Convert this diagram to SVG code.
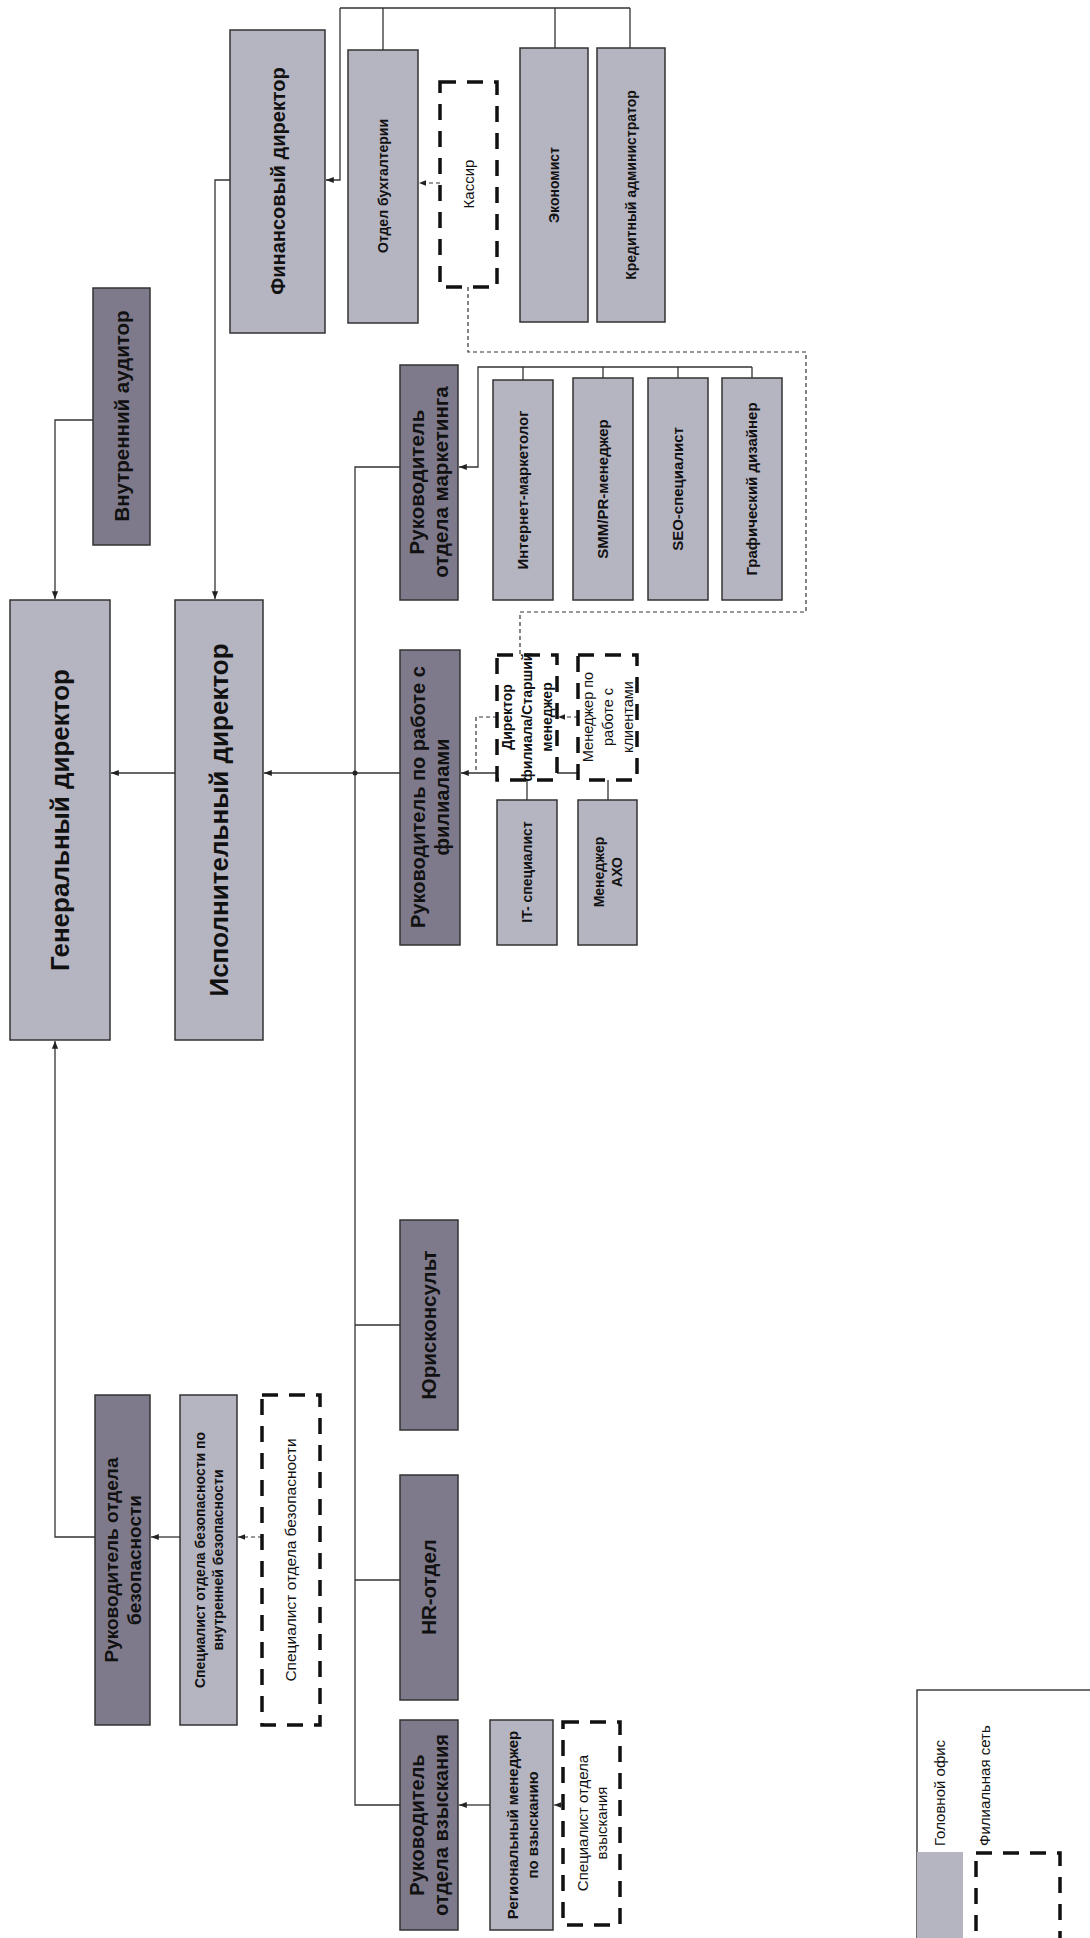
<svg xmlns="http://www.w3.org/2000/svg" width="1090" height="1938" viewBox="0 0 1090 1938">
<style>
.l{fill:#b5b4c1;stroke:#333;stroke-width:1.5}
.d{fill:#7e7a8b;stroke:#333;stroke-width:1.5}
.ds{fill:#fff;stroke:#111;stroke-width:3.5;stroke-dasharray:16 11}
.c{fill:none;stroke:#333;stroke-width:1.3}
.cd{fill:none;stroke:#333;stroke-width:1.2;stroke-dasharray:4 3}
text{font-family:"Liberation Sans",Arial,sans-serif;fill:#111;text-anchor:middle}
.b{font-weight:bold}
</style>
<defs>
<marker id="a" viewBox="0 0 10 10" refX="10" refY="5" markerWidth="6" markerHeight="6" orient="auto-start-reverse"><path d="M0,1 L10,5 L0,9 z" fill="#222"/></marker>
</defs>
<rect width="1090" height="1938" fill="#fff"/>
<g id="connectors">
<path class="c" d="M340,8 H630 M383,8 V50 M555,8 V48 M630,8 V48"/>
<path class="c" d="M340,8 V180 H326" marker-end="url(#a)"/>
<path class="cd" d="M440,183 H419" marker-end="url(#a)"/>
<path class="cd" d="M468,287 V352 H806 V612 H520 V655"/>
<path class="c" d="M230,180 H215 V599" marker-end="url(#a)"/>
<path class="c" d="M93,420 H55 V599" marker-end="url(#a)"/>
<path class="c" d="M95,1537 H55 V1041" marker-end="url(#a)"/>
<path class="c" d="M180,1537 H151" marker-end="url(#a)"/>
<path class="cd" d="M262,1537 H238" marker-end="url(#a)"/>
<path class="c" d="M175,773 H111" marker-end="url(#a)"/>
<path class="c" d="M400,773 H264" marker-end="url(#a)"/>
<path class="c" d="M400,467 H355 V1805 H400 M355,1325 H400 M355,1580 H400"/>
<circle cx="355" cy="773" r="2.5" fill="#222"/>
<path class="c" d="M752,367 H478 V467 H459" marker-end="url(#a)"/>
<path class="c" d="M523,367 V380 M603,367 V378 M678,367 V378 M752,367 V378"/>
<path class="c" d="M608,800 V773 H461" marker-end="url(#a)"/>
<path class="c" d="M527,773 V800"/>
<path class="cd" d="M497,717 H476 V773"/>
<path class="cd" d="M578,717 H558" marker-end="url(#a)"/>
<path class="c" d="M490,1805 H459" marker-end="url(#a)"/>
<path class="cd" d="M563,1805 H554" marker-end="url(#a)"/>
</g>
<g id="fin"><rect class="l" x="230" y="30" width="95" height="303"/><text class="b" font-size="20" transform="translate(277.5 181) rotate(-90)" y="7">Финансовый директор</text></g>
<g id="buh"><rect class="l" x="348" y="50" width="70" height="273"/><text class="b" font-size="14" transform="translate(383 186) rotate(-90)" y="5">Отдел бухгалтерии</text></g>
<g id="kassir"><rect class="ds" x="440" y="82" width="57" height="205"/><text font-size="15" transform="translate(468.5 184) rotate(-90)" y="5">Кассир</text></g>
<g id="econ"><rect class="l" x="520" y="48" width="68" height="274"/><text class="b" font-size="14" transform="translate(554 185) rotate(-90)" y="5">Экономист</text></g>
<g id="kred"><rect class="l" x="597" y="48" width="68" height="274"/><text class="b" font-size="14" transform="translate(631 185) rotate(-90)" y="5">Кредитный администратор</text></g>
<g id="audit"><rect class="d" x="93" y="288" width="57" height="257"/><text class="b" font-size="20.5" transform="translate(121.5 416) rotate(-90)" y="7">Внутренний аудитор</text></g>
<g id="gen"><rect class="l" x="10" y="600" width="100" height="440"/><text class="b" font-size="26" transform="translate(60 820) rotate(-90)" y="9">Генеральный директор</text></g>
<g id="isp"><rect class="l" x="175" y="600" width="88" height="440"/><text class="b" font-size="26" transform="translate(219 820) rotate(-90)" y="9">Исполнительный директор</text></g>
<g id="mkt"><rect class="d" x="400" y="365" width="58" height="235"/><text class="b" font-size="20.5" transform="translate(429 482) rotate(-90)"><tspan x="0" y="-5">Руководитель</tspan><tspan x="0" y="19">отдела маркетинга</tspan></text></g>
<g id="inet"><rect class="l" x="493" y="380" width="60" height="220"/><text class="b" font-size="15" transform="translate(523 490) rotate(-90)" y="5">Интернет-маркетолог</text></g>
<g id="smm"><rect class="l" x="573" y="378" width="60" height="222"/><text class="b" font-size="15" transform="translate(603 489) rotate(-90)" y="5">SMM/PR-менеджер</text></g>
<g id="seo"><rect class="l" x="648" y="378" width="60" height="222"/><text class="b" font-size="15" transform="translate(678 489) rotate(-90)" y="5">SEO-специалист</text></g>
<g id="graph"><rect class="l" x="722" y="378" width="60" height="222"/><text class="b" font-size="15" transform="translate(752 489) rotate(-90)" y="5">Графический дизайнер</text></g>
<g id="fil"><rect class="d" x="400" y="650" width="60" height="295"/><text class="b" font-size="20" transform="translate(430 797) rotate(-90)"><tspan x="0" y="-5">Руководитель по работе с</tspan><tspan x="0" y="19">филиалами</tspan></text></g>
<g id="dirfil"><rect class="ds" x="497" y="655" width="60" height="125"/><text class="b" font-size="14" transform="translate(527 717) rotate(-90)"><tspan x="0" y="-15">Директор</tspan><tspan x="0" y="5">филиала/Старший</tspan><tspan x="0" y="25">менеджер</tspan></text></g>
<g id="mgrcl"><rect class="ds" x="578" y="655" width="59" height="125"/><text font-size="14.5" transform="translate(607.5 717) rotate(-90)"><tspan x="0" y="-15">Менеджер по</tspan><tspan x="0" y="5">работе с</tspan><tspan x="0" y="25">клиентами</tspan></text></g>
<g id="it"><rect class="l" x="497" y="800" width="60" height="145"/><text class="b" font-size="14" transform="translate(527 872) rotate(-90)" y="5">IT- специалист</text></g>
<g id="axo"><rect class="l" x="578" y="800" width="59" height="145"/><text class="b" font-size="14" transform="translate(607.5 872) rotate(-90)"><tspan x="0" y="-4">Менеджер</tspan><tspan x="0" y="14">АХО</tspan></text></g>
<g id="yur"><rect class="d" x="400" y="1220" width="58" height="210"/><text class="b" font-size="20.5" transform="translate(429 1325) rotate(-90)" y="7">Юрисконсульт</text></g>
<g id="hr"><rect class="d" x="400" y="1475" width="58" height="225"/><text class="b" font-size="20.5" transform="translate(429 1587) rotate(-90)" y="7">HR-отдел</text></g>
<g id="vzr"><rect class="d" x="400" y="1720" width="58" height="210"/><text class="b" font-size="20" transform="translate(429 1825) rotate(-90)"><tspan x="0" y="-5">Руководитель</tspan><tspan x="0" y="19">отдела взыскания</tspan></text></g>
<g id="regm"><rect class="l" x="490" y="1720" width="63" height="210"/><text class="b" font-size="15" transform="translate(521.5 1825) rotate(-90)"><tspan x="0" y="-4">Региональный менеджер</tspan><tspan x="0" y="16">по взысканию</tspan></text></g>
<g id="specv"><rect class="ds" x="563" y="1722" width="57" height="203"/><text font-size="15" transform="translate(591.5 1823) rotate(-90)"><tspan x="0" y="-4">Специалист отдела</tspan><tspan x="0" y="15">взыскания</tspan></text></g>
<g id="bez"><rect class="d" x="95" y="1395" width="55" height="330"/><text class="b" font-size="19" transform="translate(122.5 1560) rotate(-90)"><tspan x="0" y="-5">Руководитель отдела</tspan><tspan x="0" y="18">безопасности</tspan></text></g>
<g id="specb"><rect class="l" x="180" y="1395" width="57" height="330"/><text class="b" font-size="14" transform="translate(208.5 1560) rotate(-90)"><tspan x="0" y="-4">Специалист отдела безопасности по</tspan><tspan x="0" y="14">внутренней безопасности</tspan></text></g>
<g id="specbd"><rect class="ds" x="262" y="1395" width="58" height="330"/><text font-size="15.5" transform="translate(291 1560) rotate(-90)" y="5">Специалист отдела безопасности</text></g>
<g id="legend">
<rect x="917" y="1690" width="200" height="300" fill="#fff" stroke="#222" stroke-width="1.3"/>
<rect class="l" x="917" y="1852" width="46" height="90" style="stroke:none"/>
<rect class="ds" x="976" y="1853" width="84" height="90"/>
<text font-size="15" style="text-anchor:start" transform="translate(940 1846) rotate(-90)" y="5">Головной офис</text>
<text font-size="15" style="text-anchor:start" transform="translate(985 1846) rotate(-90)" y="5">Филиальная сеть</text>
</g>
</svg>
